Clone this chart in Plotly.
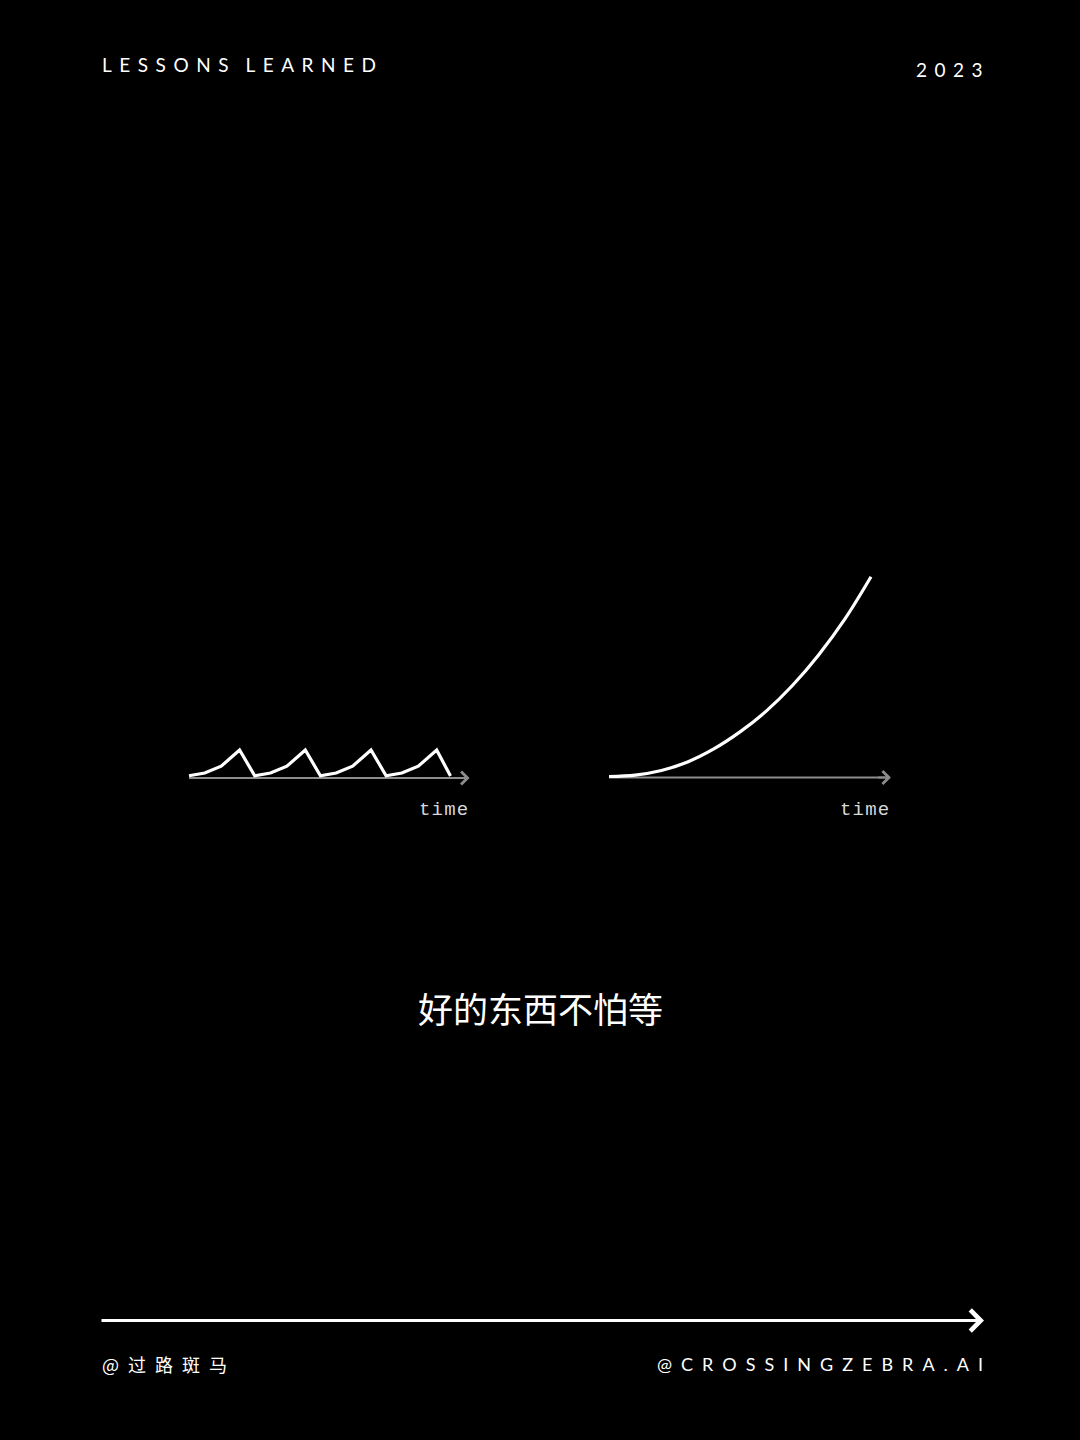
import plotly.graph_objects as go

W, H = 1080, 1440

# ---------------- data ----------------
# left chart: repeated short bursts (4 cycles)
burst_time = [0.0, 0.24, 0.49, 0.77, 1.0, 1.24, 1.49, 1.77, 2.0, 2.24, 2.49, 2.77,
              3.0, 3.24, 3.49, 3.77, 3.98]
burst_value = [0.08, 0.18, 0.42, 1.0, 0.08, 0.18, 0.42, 1.0, 0.08, 0.18, 0.42, 1.0,
               0.08, 0.18, 0.42, 1.0, 0.07]
burst_axis_end = 4.27

# right chart: compounding growth
growth_time = [0, 1, 2, 3, 4, 5, 6, 7, 8, 9, 10]
growth_value = [0.5, 1.2, 3.5, 7.8, 14.3, 22.8, 33.2, 46.0, 61.3, 79.2, 100.4]
growth_axis_end = 10.76

axis_label = "time"
header_left = "LESSONS LEARNED"
header_right = "2023"
caption = "好的东西不怕等"
footer_left = "@过路斑马"
footer_right = "@CROSSINGZEBRA.AI"

# ---------------- styles ----------------
BG = "#000000"
FG = "#ffffff"
AXIS_GREY = "#8c8c8c"
LABEL_GREY = "#d8d8d8"
SP = "\u2002"            # en space
SP_HDR = "\u2004\u200a"  # slightly narrower letter spacing for header


def spaced(s, gap=SP, word_gap=None):
    if word_gap is None:
        word_gap = gap * 2
    words = s.split(" ")
    return word_gap.join(gap.join(list(w)) for w in words)


def x_domain(lo, hi, px_zero, px_per_unit):
    return [(px_zero + lo * px_per_unit) / W, (px_zero + hi * px_per_unit) / W]


def y_domain(lo, hi, py_zero, py_per_unit):
    return [1 - (py_zero - lo * py_per_unit) / H, 1 - (py_zero - hi * py_per_unit) / H]


fig = go.Figure()

# left chart
fig.add_trace(go.Scatter(x=[0, burst_axis_end - 0.05], y=[0, 0], mode="lines",
                         line=dict(color=AXIS_GREY, width=2), xaxis="x", yaxis="y",
                         hoverinfo="skip", showlegend=False))
fig.add_trace(go.Scatter(x=burst_time, y=burst_value, mode="lines",
                         line=dict(color=FG, width=3.2), xaxis="x", yaxis="y",
                         showlegend=False))

# right chart
fig.add_trace(go.Scatter(x=[0, growth_axis_end - 0.1], y=[0, 0], mode="lines",
                         line=dict(color=AXIS_GREY, width=2), xaxis="x2", yaxis="y2",
                         hoverinfo="skip", showlegend=False))
fig.add_trace(go.Scatter(x=growth_time, y=growth_value, mode="lines",
                         line=dict(color=FG, width=3.2, shape="spline", smoothing=1.0),
                         xaxis="x2", yaxis="y2", showlegend=False))

L_RANGE_X = [-0.2, 4.45]
L_RANGE_Y = [-0.4, 1.3]
R_RANGE_X = [-0.5, 11.3]
R_RANGE_Y = [-8, 106]

hidden = dict(visible=False, showgrid=False, zeroline=False, fixedrange=True)

fig.update_layout(
    width=W, height=H,
    margin=dict(l=0, r=0, t=0, b=0),
    paper_bgcolor=BG, plot_bgcolor=BG,
    xaxis=dict(hidden, range=L_RANGE_X, domain=x_domain(*L_RANGE_X, 189, 65.7)),
    yaxis=dict(hidden, range=L_RANGE_Y, domain=y_domain(*L_RANGE_Y, 778, 28)),
    xaxis2=dict(hidden, range=R_RANGE_X, domain=x_domain(*R_RANGE_X, 609, 26.2)),
    yaxis2=dict(hidden, range=R_RANGE_Y, domain=y_domain(*R_RANGE_Y, 777.5, 2.0)),
    showlegend=False,
)

annotations = []
# axis arrowheads + labels
for xr, yr, end in (("x", "y", burst_axis_end), ("x2", "y2", growth_axis_end)):
    annotations.append(dict(x=end, y=0, ax=end - 0.05 * end, ay=0, xref=xr, yref=yr,
                            axref=xr, ayref=yr, text="", showarrow=True,
                            arrowhead=4, arrowwidth=2, arrowsize=1.25,
                            arrowcolor=AXIS_GREY))
    annotations.append(dict(x=end, y=0, xref=xr, yref=yr,
                            text=spaced(axis_label, gap="\u200a"),
                            showarrow=False, xanchor="right", yanchor="middle",
                            xshift=0, yshift=-32,
                            font=dict(family="Liberation Mono", size=19,
                                      color=LABEL_GREY)))

# header
annotations.append(dict(x=100 / W, y=1 - 65 / H, xref="paper", yref="paper",
                        text=spaced(header_left, gap=SP_HDR, word_gap=SP_HDR + SP),
                        showarrow=False, xanchor="left", yanchor="middle",
                        font=dict(family="Lato", size=19, color=FG)))
annotations.append(dict(x=985 / W, y=1 - 69 / H, xref="paper", yref="paper",
                        text=spaced(header_right, gap=SP_HDR), showarrow=False,
                        xanchor="right", yanchor="middle",
                        font=dict(family="Lato", size=19, color=FG)))

# caption
annotations.append(dict(x=0.5, y=1 - 1008 / H, xref="paper", yref="paper",
                        text=caption, showarrow=False,
                        xanchor="center", yanchor="middle",
                        font=dict(family="Noto Sans CJK SC", size=35, color=FG)))

# footer arrow
annotations.append(dict(x=984 / W, y=1 - 1320.5 / H, xref="paper", yref="paper",
                        ax=-884, ay=0, text="", showarrow=True,
                        arrowhead=4, arrowwidth=3, arrowsize=1.35,
                        arrowcolor=FG))

# footer text
annotations.append(dict(x=100 / W, y=1 - 1364 / H, xref="paper", yref="paper",
                        text=spaced(footer_left), showarrow=False,
                        xanchor="left", yanchor="middle",
                        font=dict(family="Noto Sans CJK SC", size=18, color=FG)))
annotations.append(dict(x=985 / W, y=1 - 1364 / H, xref="paper", yref="paper",
                        text=spaced(footer_right), showarrow=False,
                        xanchor="right", yanchor="middle",
                        font=dict(family="Lato", size=18, color=FG)))

fig.update_layout(annotations=annotations)

fig.write_html("out.html", config={"displayModeBar": False})
